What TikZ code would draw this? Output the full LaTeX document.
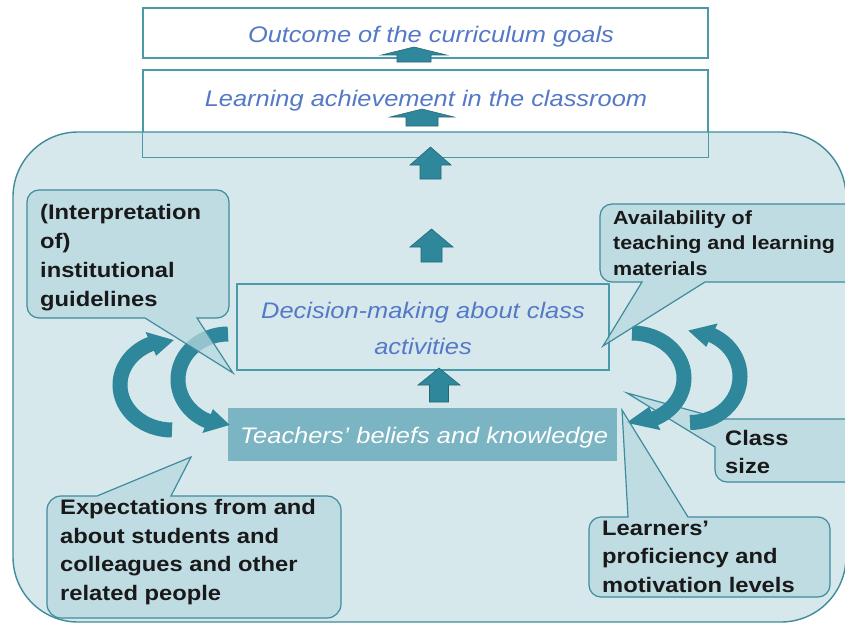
\documentclass[tikz,border=0pt]{standalone}
\usepackage{fontspec}
\setmainfont{Liberation Sans}[FakeStretch=1.13]
\usetikzlibrary{calc}
\definecolor{bgc}{RGB}{215,232,236}
\definecolor{edgec}{RGB}{62,140,156}
\definecolor{callfill}{RGB}{183,216,224}
\definecolor{arrowc}{RGB}{47,135,155}
\definecolor{arrowdark}{RGB}{36,104,120}
\definecolor{bluetxt}{RGB}{84,121,199}
\definecolor{teachc}{RGB}{123,181,195}
\definecolor{boxedge}{RGB}{74,154,171}
\newcommand\bkarrow[6]{\draw[blockarrow] (#1,#2) -- ({#1+#4},#3) -- ({#1+#5},#3) -- ({#1+#5},#6) -- ({#1-#5},#6) -- ({#1-#5},#3) -- ({#1-#4},#3) -- cycle;}
\begin{document}
\begin{tikzpicture}[x=1pt,y=-1pt,
  wbox/.style={draw=boxedge, line width=1.3pt, fill=white, minimum width=565pt, inner sep=0pt, rectangle},
  bluetext/.style={text=bluetxt, font=\fontsize{22.5}{36}\selectfont\itshape, inner sep=0pt},
  calltext/.style={text=black!90, font=\fontsize{21}{29}\selectfont\bfseries, inner sep=0pt, align=left, anchor=north west},
  callout/.style={draw=edgec, line width=1.2pt, fill=callfill, fill opacity=0.75},
  curvy/.style={draw=arrowc, line width=15pt},
  headc/.style={fill=arrowc},
  blockarrow/.style={fill=arrowc, draw=arrowdark, line width=0.6pt}]
\useasboundingbox (0,0) rectangle (845,626);
\clip (0,0) rectangle (845,626);
\fill[white] (0,0) rectangle (845,626);
% top boxes
\node[wbox, minimum height=50pt] (outcome) at (425.5,33) {};
\node[wbox, minimum height=87pt] (learn) at (425.5,113.5) {};
% frame
\node[draw=edgec, fill=bgc, line width=1.4pt, rounded corners=65pt, minimum width=833pt, minimum height=490pt, inner sep=0pt] (frame) at (429.5,377) {};
\draw[boxedge, line width=1.3pt] (learn.north west) rectangle (learn.south east);
% inner boxes
\node[draw=boxedge, line width=1.2pt, minimum width=372pt, minimum height=86pt, inner sep=0pt] (decision) at (423,327) {};
\node[fill=teachc, minimum width=389pt, minimum height=53pt, inner sep=0pt] (teach) at (422.5,434.5) {};
% block arrows
\bkarrow{414}{47}{55}{32.5}{17}{62}
\bkarrow{422}{109}{117}{32}{16}{126}
\bkarrow{430.5}{147}{165}{20.5}{10.5}{179}
\bkarrow{431.5}{229}{247}{21.5}{10.5}{262}
\bkarrow{439}{368}{385}{21}{9.5}{402}
% class size callout (behind the curved arrows)
\draw[callout] (722,419) -- (860,419) -- (860,482) -- (727,482) arc[start angle=90,end angle=180,radius=12] -- (715,447) -- (627,393) -- cycle;
% curved arrows
% left outer
\draw[curvy] (172,430) arc[start angle=90, end angle=248, x radius=52, y radius=45];
\fill[headc] ({172+65*cos(246)},{385+58*sin(246)}) -- ({172+39*cos(246)},{385+32*sin(246)}) -- ({172+52*cos(272)},{385+45*sin(272)}) -- cycle;
% left inner
\draw[curvy] (228,334) arc[start angle=270, end angle=112, x radius=50, y radius=45.5];
\fill[headc] ({228+63*cos(114)},{379.5+58.5*sin(114)}) -- ({228+37*cos(114)},{379.5+32.5*sin(114)}) -- ({228+50*cos(88)},{379.5+45.5*sin(88)}) -- cycle;
% right inner
\draw[curvy] (632,333) arc[start angle=-90, end angle=66, x radius=52, y radius=45];
\fill[headc] ({632+65*cos(64)},{378+58*sin(64)}) -- ({632+39*cos(64)},{378+32*sin(64)}) -- ({632+52*cos(96)},{378+45*sin(96)}) -- cycle;
% right outer
\draw[curvy] (690,422.5) arc[start angle=90, end angle=-66, x radius=50, y radius=46];
\fill[headc] ({690+63*cos(-64)},{376.5+59*sin(-64)}) -- ({690+37*cos(-64)},{376.5+33*sin(-64)}) -- ({690+50*cos(-92)},{376.5+46*sin(-92)}) -- cycle;
% callouts
\draw[callout] (39,190) -- (217,190) arc[start angle=-90,end angle=0,radius=12] -- (229,306) arc[start angle=0,end angle=90,radius=12] -- (197,318) -- (233,373) -- (145,318) -- (39,318) arc[start angle=90,end angle=180,radius=12] -- (27,202) arc[start angle=180,end angle=270,radius=12] -- cycle;
\draw[callout] (612,204) -- (860,204) -- (860,282) -- (705,282) -- (603,346) -- (642,282) -- (612,282) arc[start angle=90,end angle=180,radius=12] -- (600,216) arc[start angle=180,end angle=270,radius=12] -- cycle;
\draw[callout] (601,517) -- (628,517) -- (622,410) -- (688,517) -- (818,517) arc[start angle=-90,end angle=0,radius=12] -- (830,585) arc[start angle=0,end angle=90,radius=12] -- (601,597) arc[start angle=90,end angle=180,radius=12] -- (589,529) arc[start angle=180,end angle=270,radius=12] -- cycle;
\draw[callout] (61,496) -- (97,496) -- (191,457) -- (171,496) -- (327,496) arc[start angle=-90,end angle=0,radius=14] -- (341,604) arc[start angle=0,end angle=90,radius=14] -- (61,618) arc[start angle=90,end angle=180,radius=14] -- (47,510) arc[start angle=180,end angle=270,radius=14] -- cycle;
% texts
\node[bluetext, anchor=base] (outcometext) at (431,43) {Outcome of the curriculum goals};
\node[bluetext, anchor=base] (learntext) at (426,106) {Learning achievement in the classroom};
\node[bluetext, align=center, anchor=north] (dectext) at (423,301) {\rule{0pt}{17pt}Decision-making about class\\activities};
\node[bluetext, text=white, anchor=base] (teachtext) at (424,443) {Teachers’ beliefs and knowledge};
\node[calltext] (interp) at (40,203) {\rule{0pt}{16pt}(Interpretation\\of)\\institutional\\guidelines};
\node[calltext, font=\fontsize{21}{28.5}\selectfont\bfseries] (expect) at (60,498.5) {\rule{0pt}{16pt}Expectations from and\\about students  and\\colleagues and other\\related people};
\node[calltext, font=\fontsize{19}{25.5}\selectfont\bfseries] (avail) at (613,209) {\rule{0pt}{15pt}Availability  of\\teaching and learning\\materials};
\node[calltext, font=\fontsize{21}{28}\selectfont\bfseries] (classsz) at (725,429) {\rule{0pt}{16pt}Class\\size};
\node[calltext, font=\fontsize{21}{28.5}\selectfont\bfseries] (learners) at (602,519) {\rule{0pt}{16pt}Learners’\\proficiency and\\motivation levels};
\end{tikzpicture}
\end{document}
